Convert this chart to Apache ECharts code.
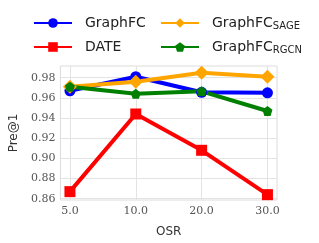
<!DOCTYPE html>
<html><head><meta charset="utf-8">
<script src="https://cdn.jsdelivr.net/npm/echarts@6/dist/echarts.min.js"></script>
<style>html,body{margin:0;padding:0;background:#fff}#c{width:319px;height:243px}</style>
</head><body><div id="c"></div>
<script>
var categories = ['5.0', '10.0', '20.0', '30.0'];
var graphFC = [0.967, 0.981, 0.9655, 0.965];
var graphFCSage = [0.971, 0.976, 0.985, 0.981];
var date = [0.867, 0.944, 0.908, 0.864];
var graphFCRgcn = [0.971, 0.964, 0.9665, 0.947];
var yTicks = [0.86, 0.88, 0.90, 0.92, 0.94, 0.96, 0.98];

function pts(arr){ return arr.map(function(v,i){ return [i, v]; }); }
var chart = echarts.init(document.getElementById('c'));
var rich = {
  a: {fontFamily: 'DejaVu Sans', fontSize: 14, color: '#222', lineHeight: 16},
  s: {fontFamily: 'DejaVu Sans', fontSize: 10, color: '#222', verticalAlign: 'bottom', lineHeight: 12, padding: [6,0,0,0]}
};
function fmt(name){
  if (name === 'GraphFC_SAGE') return '{a|GraphFC}{s|SAGE}';
  if (name === 'GraphFC_RGCN') return '{a|GraphFC}{s|RGCN}';
  return '{a|' + name + '}{s| }';
}
var legendBase = {orient: 'vertical', padding: 0, itemWidth: 38, itemHeight: 12, itemGap: 8, formatter: fmt, textStyle: {rich: rich, padding:[0,0,0,8]}};
function mk(name, data, color, symbol, size){
  return {name: name, type: 'line', data: pts(data), symbol: symbol, symbolSize: size,
    lineStyle: {width: 4, color: color}, itemStyle: {color: color}, z: 3};
}
chart.setOption({
  animation: false,
  legend: [
    Object.assign({}, legendBase, {left: 33, top: 15, data: ['GraphFC', 'DATE']}),
    Object.assign({}, legendBase, {left: 160, top: 15, data: ['GraphFC_SAGE', 'GraphFC_RGCN']})
  ],
  grid: {left: 50, right: 42, top: 66, bottom: 39, show: true, borderColor: '#dcdcdc', borderWidth: 1},
  xAxis: {type: 'value', min: -0.145, max: 3.145,
    name: 'OSR', nameLocation: 'middle', nameGap: 26,
    nameTextStyle: {fontFamily: 'DejaVu Sans', fontSize: 12, color: '#333'},
    axisLine: {show: false}, axisTick: {show: false, customValues: [0,1,2,3]},
    axisLabel: {customValues: [0,1,2,3], formatter: function(v){ return categories[Math.round(v)]; },
      fontFamily: 'DejaVu Serif', fontSize: 11, color: '#555', margin: 6},
    splitLine: {show: true, lineStyle: {color: '#e3e3e3', width: 1}}
  },
  yAxis: {type: 'value', min: 0.8587, max: 0.9916,
    name: 'Pre@1', nameLocation: 'middle', nameGap: 35, nameRotate: 90,
    nameTextStyle: {fontFamily: 'DejaVu Sans', fontSize: 12, color: '#333'},
    axisLine: {show: false}, axisTick: {show: false, customValues: yTicks},
    axisLabel: {customValues: yTicks, formatter: function(v){ return v.toFixed(2); },
      fontFamily: 'DejaVu Serif', fontSize: 11, color: '#555', margin: 5},
    splitLine: {show: true, lineStyle: {color: '#e3e3e3', width: 1}}
  },
  series: [
    mk('GraphFC', graphFC, '#0000ff', 'circle', 11),
    mk('DATE', date, '#ff0000', 'rect', 11),
    mk('GraphFC_SAGE', graphFCSage, '#ffa500', 'diamond', 14),
    mk('GraphFC_RGCN', graphFCRgcn, '#008000', 'path://M0,-1 L0.951,-0.309 L0.588,0.809 L-0.588,0.809 L-0.951,-0.309 Z', 10)
  ]
});
</script></body></html>
